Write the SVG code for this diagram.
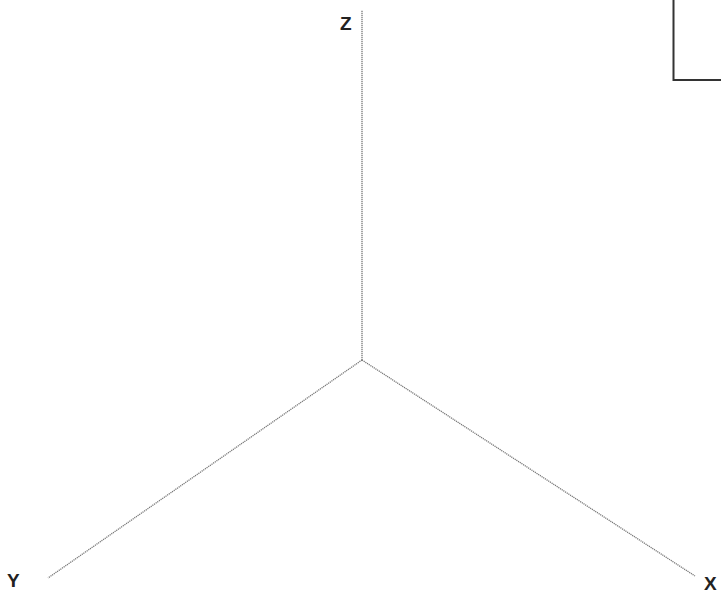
<svg xmlns="http://www.w3.org/2000/svg" width="721" height="596" viewBox="0 0 721 596">
<style>
.ax{stroke:#777;stroke-width:1.3;stroke-dasharray:1.2 0.8;fill:none}
.lb{font-family:"Liberation Sans",Arial,sans-serif;font-size:19px;font-weight:bold;fill:#222}
</style>
<rect width="721" height="596" fill="#fff"/>
<g id="box"><rect x="673.5" y="-5" width="60" height="85" fill="none" stroke="#333" stroke-width="2"/></g>
<g id="connectors">
<line class="ax" x1="362" y1="360" x2="362" y2="10"/>
<line class="ax" x1="362" y1="360" x2="48" y2="578"/>
<line class="ax" x1="362" y1="360" x2="695" y2="576"/>
</g>
<g id="labelZ"><text class="lb" x="340" y="30">Z</text></g>
<g id="labelY"><text class="lb" x="7" y="587">Y</text></g>
<g id="labelX"><text class="lb" x="704" y="590">X</text></g>
</svg>
